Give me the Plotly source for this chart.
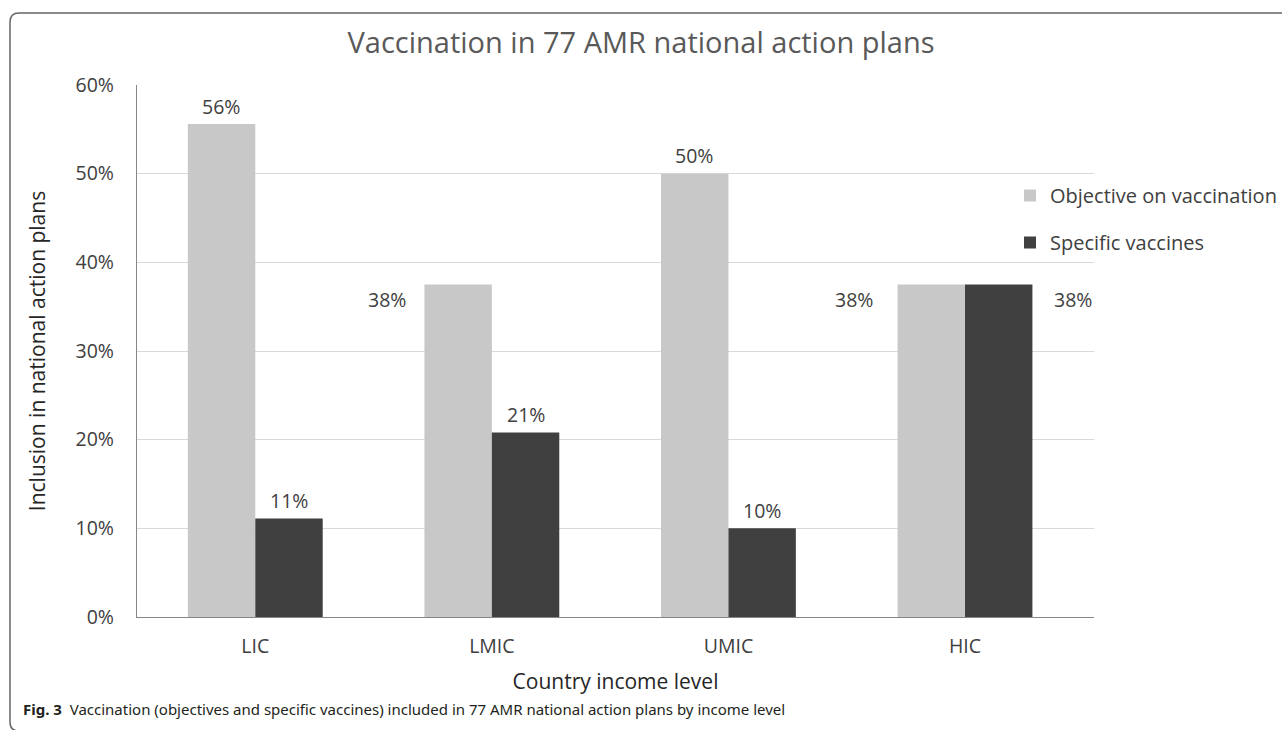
import plotly.graph_objects as go

# ---- data ----
categories = ["LIC", "LMIC", "UMIC", "HIC"]
objective_on_vaccination = [0.556, 0.375, 0.50, 0.375]
specific_vaccines = [0.111, 0.208, 0.10, 0.375]
series_names = ["Objective on vaccination", "Specific vaccines"]
title_text = "Vaccination in 77 AMR national action plans"
y_title = "Inclusion in national action plans"
x_title = "Country income level"
caption_bold = "Fig. 3"
caption_text = "Vaccination (objectives and specific vaccines) included in 77 AMR national action plans by income level"

# ---- layout geometry (window pixels) ----
W, H = 1282, 730
L, R, T, B = 137, 1094, 85, 617


def px(x):
    return (x - L) / (R - L)


def py(y):
    return (B - y) / (B - T)


LIGHT = "#C8C8C8"
DARK = "#404040"
TXT = "#404040"
FONT = "Open Sans"

fig = go.Figure()
fig.add_trace(go.Bar(x=categories, y=objective_on_vaccination, name=series_names[0],
                     marker=dict(color=LIGHT, line=dict(width=0)), legendgroup="a"))
fig.add_trace(go.Bar(x=categories, y=specific_vaccines, name=series_names[1],
                     marker=dict(color=DARK, line=dict(width=0)), legendgroup="b"))

# label placement per bar (style only)
obj_pos = ["top", "left", "top", "left"]
spec_pos = ["top", "top", "top", "right"]

annotations = []
lab_font = dict(family=FONT, size=19.5, color=TXT)
for i, c in enumerate(categories):
    for vals, pos, shift, gap in ((objective_on_vaccination, obj_pos, -34, -84),
                                  (specific_vaccines, spec_pos, 34, 87)):
        v = vals[i]
        if pos[i] == "top":
            annotations.append(dict(x=c, y=v, xref="x", yref="y", text=f"{v:.0%}",
                                    showarrow=False, xshift=shift, yshift=18,
                                    xanchor="center", yanchor="middle", font=lab_font))
        elif pos[i] == "left":
            g = gap if c == "LMIC" else -90
            annotations.append(dict(x=c, y=v, xref="x", yref="y", text=f"{v:.0%}",
                                    showarrow=False, xshift=g, yshift=-15,
                                    xanchor="right", yanchor="middle", font=lab_font))
        else:
            annotations.append(dict(x=c, y=v, xref="x", yref="y", text=f"{v:.0%}",
                                    showarrow=False, xshift=gap, yshift=-15,
                                    xanchor="left", yanchor="middle", font=lab_font))

annotations.append(dict(xref="paper", yref="paper", x=px(21), y=py(709),
                        xanchor="left", yanchor="middle", showarrow=False,
                        text=f"<b>{caption_bold}</b>  {caption_text}",
                        font=dict(family="Noto Sans", size=15, color="#231f20")))

# frame (top + left with rounded corners)
r = 9
frame_path = (f"M {px(W + 5)},{py(13)} L {px(10 + r)},{py(13)} "
              f"Q {px(10)},{py(13)} {px(10)},{py(13 + r)} "
              f"L {px(10)},{py(731 - r)} Q {px(10)},{py(731)} {px(10 + r)},{py(731)}")

fig.update_layout(
    width=W, height=H,
    margin=dict(l=L, r=W - R, t=T, b=H - B, autoexpand=False),
    paper_bgcolor="white", plot_bgcolor="white",
    barmode="group", bargap=0.43, bargroupgap=0,
    font=dict(family=FONT, color=TXT),
    title=dict(text=title_text, x=641 / W, xref="container", xanchor="center",
               y=1 - 43 / H, yref="container", yanchor="middle",
               font=dict(family=FONT, size=29, color="#595959")),
    xaxis=dict(showgrid=False, showline=True, linecolor="#868686", linewidth=1.3,
               ticks="", tickfont=dict(size=19.5, color=TXT, family=FONT),
               ticklabelstandoff=11,
               title=dict(text=x_title, font=dict(size=21, color="#262626", family=FONT), standoff=16)),
    yaxis=dict(range=[0, 0.6], dtick=0.1, tickformat=".0%", showgrid=True,
               gridcolor="#D9D9D9", gridwidth=1.3, showline=True, linecolor="#868686",
               linewidth=1.3, zeroline=False, ticks="", ticklabelstandoff=18,
               tickfont=dict(size=19.5, color=TXT, family=FONT),
               title=dict(text=y_title, font=dict(size=21, color="#262626", family=FONT), standoff=24)),
    legend=dict(x=px(1010), y=py(176), xanchor="left", yanchor="top",
                font=dict(size=20, color=TXT, family=FONT), tracegroupgap=18,
                traceorder="grouped", itemwidth=30, bgcolor="rgba(0,0,0,0)"),
    annotations=annotations,
    shapes=[dict(type="path", path=frame_path, xref="paper", yref="paper",
                 line=dict(color="#666666", width=1.5))],
)

fig.write_html("out.html", config={"displayModeBar": False},
               post_script="document.body.style.margin='0px';document.body.style.overflow='hidden';")
